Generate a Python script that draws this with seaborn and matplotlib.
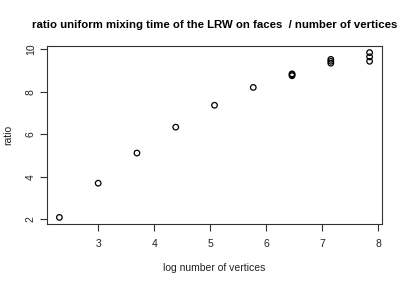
import numpy as np
import pandas as pd
import matplotlib
matplotlib.use("Agg")
import matplotlib.pyplot as plt
import seaborn as sns

# number of vertices per run, and the measured ratio (several runs at the larger sizes)
n_vertices = [10, 20, 40, 80, 160, 320, 640, 640, 640,
              1280, 1280, 1280, 2560, 2560, 2560]
ratio = [2.09, 3.70, 5.12, 6.34, 7.37, 8.21, 8.76, 8.81, 8.85,
         9.35, 9.44, 9.53, 9.44, 9.65, 9.85]

df = pd.DataFrame({"logn": np.log(n_vertices), "ratio": ratio})

sns.set_style("ticks")
plt.rcParams['font.family'] = ['Liberation Sans', 'DejaVu Sans']
plt.rcParams['text.color'] = 'black'
plt.rcParams['axes.labelcolor'] = 'black'
plt.rcParams['xtick.color'] = 'black'
plt.rcParams['ytick.color'] = 'black'

fig = plt.figure(figsize=(4.07, 2.84), dpi=100)
ax = fig.add_axes([47 / 407, 1 - 224 / 284, 335 / 407, 178 / 284])

sns.scatterplot(data=df, x="logn", y="ratio", ax=ax, s=16,
                facecolor="none", edgecolor="black", linewidth=0.9, legend=False)

# R style 4% padding
xr = df["logn"].max() - df["logn"].min()
yr = df["ratio"].max() - df["ratio"].min()
ax.set_xlim(df["logn"].min() - 0.04 * xr, df["logn"].max() + 0.04 * xr)
ax.set_ylim(df["ratio"].min() - 0.04 * yr, df["ratio"].max() + 0.04 * yr)

ax.set_xticks([3, 4, 5, 6, 7, 8])
ax.set_yticks([2, 4, 6, 8, 10])
ax.tick_params(axis="both", length=5, width=0.8, labelsize=7.5,
               color="#333333", labelcolor="#222222")
ax.tick_params(axis="x", pad=6)
ax.tick_params(axis="y", pad=3)
for lab in ax.get_yticklabels():
    lab.set_rotation(90)
    lab.set_va("center")

for sp in ax.spines.values():
    sp.set_linewidth(0.8)
    sp.set_color("#333333")

ax.set_xlabel("log number of vertices", fontsize=7.5, labelpad=10, color="#222222")
ax.set_ylabel("ratio", fontsize=7.5, labelpad=9, color="#222222")
ax.set_title("ratio uniform mixing time of the LRW on faces  / number of vertices",
             fontsize=8.2, fontweight="bold", pad=13, color="black")

fig.savefig("out.png", dpi=100)
